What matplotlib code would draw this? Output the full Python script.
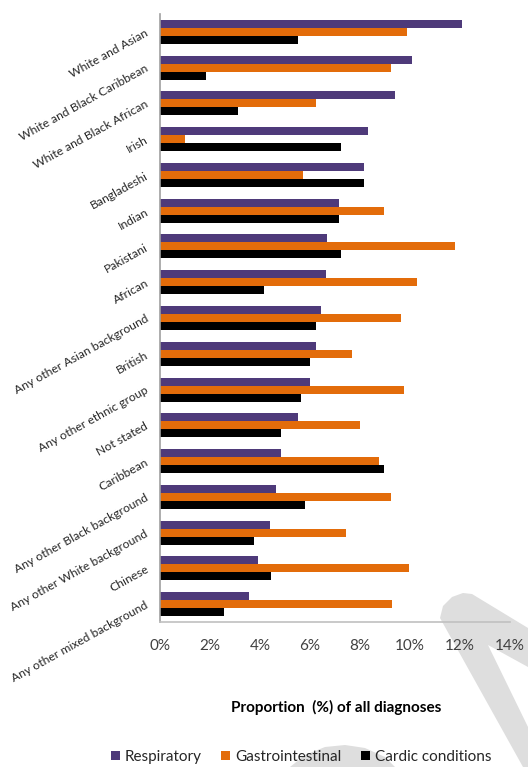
import matplotlib
matplotlib.use("Agg")
import matplotlib.pyplot as plt
import numpy as np
from matplotlib.patches import Polygon

categories = [
    "White and Asian", "White and Black Caribbean", "White and Black African",
    "Irish", "Bangladeshi", "Indian", "Pakistani", "African",
    "Any other Asian background", "British", "Any other ethnic group",
    "Not stated", "Caribbean", "Any other Black background",
    "Any other White background", "Chinese", "Any other mixed background",
]
respiratory = [12.1, 10.1, 9.4, 8.3, 8.15, 7.15, 6.7, 6.65, 6.45, 6.25, 6.0,
               5.5, 4.85, 4.65, 4.4, 3.9, 3.55]
gastrointestinal = [9.9, 9.25, 6.25, 1.0, 5.7, 8.95, 11.8, 10.3, 9.65, 7.7, 9.75,
                    8.0, 8.75, 9.25, 7.45, 9.95, 9.3]
cardiac = [5.5, 1.85, 3.1, 7.25, 8.15, 7.15, 7.25, 4.15, 6.25, 6.0, 5.65,
           4.85, 8.95, 5.8, 3.75, 4.45, 2.55]
series_names = ["Respiratory", "Gastrointestinal", "Cardic conditions"]
colors = ["#4E3A7A", "#E36C0A", "#000000"]
xticks = [0, 2, 4, 6, 8, 10, 12, 14]
xtick_labels = ["0%", "2%", "4%", "6%", "8%", "10%", "12%", "14%"]

plt.rcParams['font.family'] = ['Lato', 'DejaVu Sans']

W, H = 528, 767
fig = plt.figure(figsize=(W / 100, H / 100), dpi=100)

# watermark overlay (behind)
bg = fig.add_axes([0, 0, 1, 1], zorder=0)
bg.set_xlim(0, W)
bg.set_ylim(H, 0)
bg.axis('off')
wm = "#DEDEDE"
bg.add_patch(Polygon([(440, 618), (443, 606), (452, 597), (463, 593), (472, 594),
                      (528, 628), (528, 667), (488, 645), (528, 727),
                      (528, 767), (523, 767)], closed=True, color=wm, lw=0))
bg.add_patch(Polygon([(290, 767), (305, 755), (325, 747), (345, 745), (365, 748),
                      (385, 757), (395, 767)], closed=True, color=wm, lw=0))

ax = fig.add_axes([160 / W, (H - 622) / H, 350 / W, 608 / H], zorder=1)
ax.set_facecolor('none')

y = np.arange(len(categories))
h = 0.224
for i, (vals, name, c) in enumerate(zip([respiratory, gastrointestinal, cardiac],
                                        series_names, colors)):
    ax.barh(y + (i - 1) * h, vals, height=h, color=c, label=name)

ax.set_xlim(0, 14)
ax.set_ylim(len(categories) - 0.5, -0.5)
ax.set_xticks(xticks)
ax.set_xticklabels(xtick_labels, fontsize=11, color="#404040")
ax.set_yticks(y)
ax.set_yticklabels(categories, rotation=29, ha='right', va='center',
                   rotation_mode='anchor', fontsize=8.7, color="#262626")
ax.tick_params(axis='x', length=0, pad=12)
ax.tick_params(axis='y', length=0, pad=9)
for s in ['top', 'right']:
    ax.spines[s].set_visible(False)
ax.spines['left'].set_color('#A0A0A0')
ax.spines['bottom'].set_color('#C0C0C0')
ax.spines['left'].set_linewidth(1.2)
ax.spines['bottom'].set_linewidth(1.2)

fig.text(336 / W, (H - 707) / H, "Proportion  (%) of all diagnoses", ha='center',
         va='center', fontsize=11, fontweight='bold', color='#000000')

handles, labels = ax.get_legend_handles_labels()
fig.legend(handles, labels, loc='center', bbox_to_anchor=(301 / W, (H - 757) / H),
           ncol=3, frameon=False, fontsize=11, handlelength=0.6, handleheight=0.6,
           handletextpad=0.3, columnspacing=1.3, labelcolor='#262626')

fig.savefig("out.png", dpi=100)
